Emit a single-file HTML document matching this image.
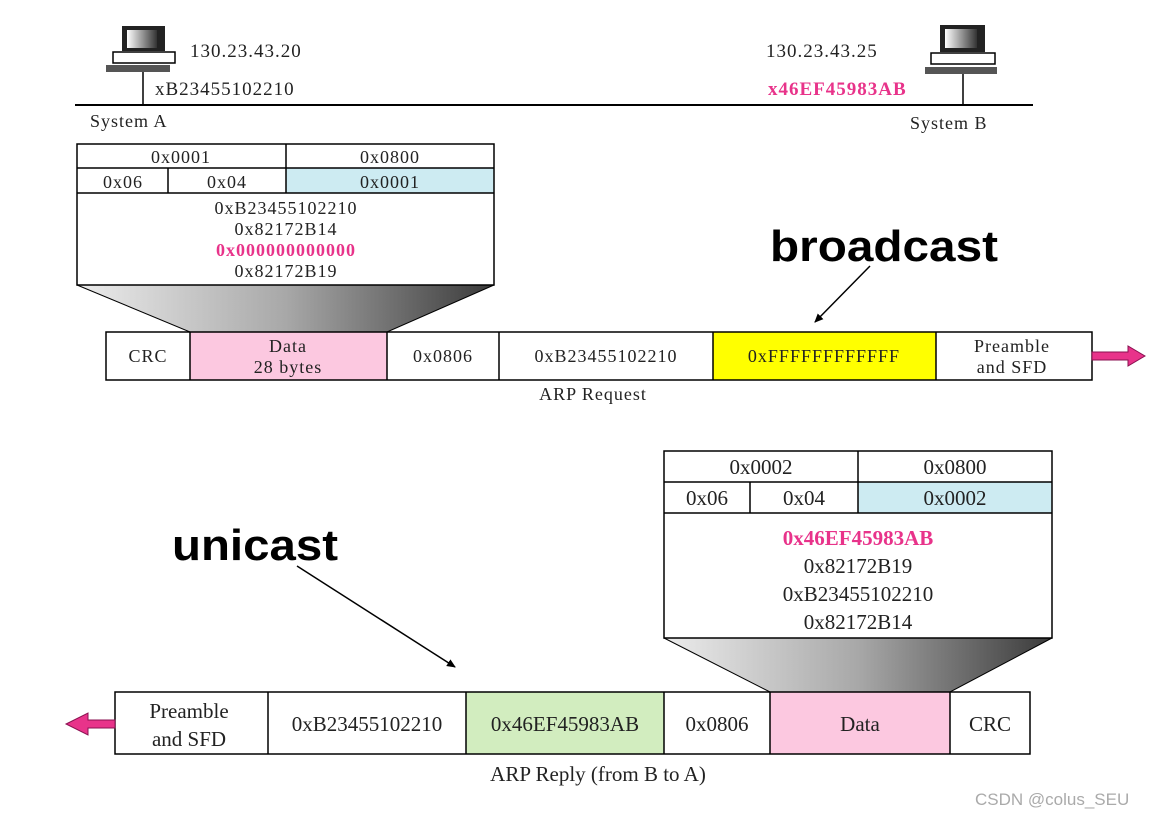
<!DOCTYPE html>
<html><head><meta charset="utf-8"><style>
html,body{margin:0;padding:0;background:#fff;}
</style></head><body>
<svg width="1166" height="818" viewBox="0 0 1166 818" xmlns="http://www.w3.org/2000/svg">
<defs>
<linearGradient id="g" x1="0" x2="1" y1="0" y2="0">
<stop offset="0" stop-color="#ececec"/><stop offset="0.5" stop-color="#a8a8a8"/><stop offset="1" stop-color="#3a3a3a"/>
</linearGradient>
<linearGradient id="mon" x1="0" x2="1"><stop offset="0" stop-color="#fff"/><stop offset="1" stop-color="#333"/></linearGradient>
<marker id="ah" markerWidth="10" markerHeight="10" refX="8" refY="5" orient="auto" markerUnits="userSpaceOnUse"><path d="M0,1 L9,5 L0,9 Z" fill="#000"/></marker>
</defs>

<line x1="75" y1="105" x2="1033" y2="105" stroke="#000" stroke-width="2"/>
<g>
<rect x="122" y="26" width="43" height="25" fill="#222"/><rect x="127" y="30" width="30" height="18" fill="url(#mon)"/>
<rect x="113" y="52" width="62" height="11" fill="#fff" stroke="#000" stroke-width="1.5"/>
<rect x="106" y="65" width="64" height="7" fill="#555"/>
<line x1="143" y1="72" x2="143" y2="105" stroke="#000" stroke-width="1.5"/>
</g>
<g>
<rect x="940" y="25" width="45" height="27" fill="#222"/><rect x="945" y="29" width="32" height="19" fill="url(#mon)"/>
<rect x="931" y="53" width="64" height="11" fill="#fff" stroke="#000" stroke-width="1.5"/>
<rect x="925" y="67" width="72" height="7" fill="#555"/>
<line x1="963" y1="74" x2="963" y2="105" stroke="#000" stroke-width="1.5"/>
</g>
<g font-family="Liberation Serif,serif" letter-spacing="1">
<text x="190" y="57" font-size="19" fill="#222">130.23.43.20</text>
<text x="155" y="95" font-size="19" fill="#222">xB23455102210</text>
<text x="90" y="127" font-size="18" fill="#222">System A</text>
<text x="766" y="57" font-size="19" fill="#222">130.23.43.25</text>
<text x="768" y="95" font-size="19" fill="#e8338a" font-weight="bold">x46EF45983AB</text>
<text x="910" y="129" font-size="18" fill="#222">System B</text>
</g>

<polygon points="77,285 494,285 387,332 190,332" fill="url(#g)" stroke="#000"/>
<rect x="286" y="168" width="208" height="25" fill="#cdebf2"/>
<rect x="77" y="144" width="417" height="141" fill="none" stroke="#000" stroke-width="1.5"/>
<line x1="77" y1="168" x2="494" y2="168" stroke="#000" stroke-width="1.5"/>
<line x1="77" y1="193" x2="494" y2="193" stroke="#000" stroke-width="1.5"/>
<line x1="286" y1="144" x2="286" y2="193" stroke="#000" stroke-width="1.5"/>
<line x1="168" y1="168" x2="168" y2="193" stroke="#000" stroke-width="1.5"/>
<g font-family="Liberation Serif,serif" font-size="18" fill="#222" text-anchor="middle" letter-spacing="1">
<text x="181" y="163">0x0001</text><text x="390" y="163">0x0800</text>
<text x="123" y="188">0x06</text><text x="227" y="188">0x04</text><text x="390" y="188">0x0001</text>
<text x="286" y="214">0xB23455102210</text>
<text x="286" y="235">0x82172B14</text>
<text x="286" y="256" fill="#e8338a" font-weight="bold">0x000000000000</text>
<text x="286" y="277">0x82172B19</text>
</g>

<rect x="190" y="332" width="197" height="48" fill="#fcc8e0"/>
<rect x="713" y="332" width="223" height="48" fill="#ffff00"/>
<rect x="106" y="332" width="986" height="48" fill="none" stroke="#000" stroke-width="1.5"/>
<g stroke="#000" stroke-width="1.5">
<line x1="190" y1="332" x2="190" y2="380"/><line x1="387" y1="332" x2="387" y2="380"/>
<line x1="499" y1="332" x2="499" y2="380"/><line x1="713" y1="332" x2="713" y2="380"/>
<line x1="936" y1="332" x2="936" y2="380"/></g>
<g font-family="Liberation Serif,serif" font-size="18" fill="#222" text-anchor="middle" letter-spacing="1">
<text x="148" y="362">CRC</text>
<text x="288" y="352">Data</text><text x="288" y="373">28 bytes</text>
<text x="443" y="362">0x0806</text>
<text x="606" y="362">0xB23455102210</text>
<text x="824" y="362">0xFFFFFFFFFFFF</text>
<text x="1012" y="352">Preamble</text><text x="1012" y="373">and SFD</text>
<text x="593" y="400">ARP Request</text>
</g>
<path d="M1092,352 L1128,352 L1128,346 L1145,356 L1128,366 L1128,360 L1092,360 Z" fill="#e8338a" stroke="#8a1050"/>
<text x="770" y="261" font-family="Liberation Sans,sans-serif" font-size="44" font-weight="bold" fill="#000" textLength="228" lengthAdjust="spacingAndGlyphs">broadcast</text>
<line x1="870" y1="266" x2="815" y2="322" stroke="#000" stroke-width="1.5" marker-end="url(#ah)"/>

<polygon points="664,638 1052,638 950,692 770,692" fill="url(#g)" stroke="#000"/>
<rect x="858" y="482" width="194" height="31" fill="#cdebf2"/>
<rect x="664" y="451" width="388" height="187" fill="none" stroke="#000" stroke-width="1.5"/>
<line x1="664" y1="482" x2="1052" y2="482" stroke="#000" stroke-width="1.5"/>
<line x1="664" y1="513" x2="1052" y2="513" stroke="#000" stroke-width="1.5"/>
<line x1="858" y1="451" x2="858" y2="513" stroke="#000" stroke-width="1.5"/>
<line x1="750" y1="482" x2="750" y2="513" stroke="#000" stroke-width="1.5"/>
<g font-family="Liberation Serif,serif" font-size="21" fill="#222" text-anchor="middle">
<text x="761" y="474">0x0002</text><text x="955" y="474">0x0800</text>
<text x="707" y="505">0x06</text><text x="804" y="505">0x04</text><text x="955" y="505">0x0002</text>
<text x="858" y="545" fill="#e8338a" font-weight="bold">0x46EF45983AB</text>
<text x="858" y="573">0x82172B19</text>
<text x="858" y="601">0xB23455102210</text>
<text x="858" y="629">0x82172B14</text>
</g>

<rect x="466" y="692" width="198" height="62" fill="#d2edbf"/>
<rect x="770" y="692" width="180" height="62" fill="#fcc8e0"/>
<rect x="115" y="692" width="915" height="62" fill="none" stroke="#000" stroke-width="1.5"/>
<g stroke="#000" stroke-width="1.5">
<line x1="268" y1="692" x2="268" y2="754"/><line x1="466" y1="692" x2="466" y2="754"/>
<line x1="664" y1="692" x2="664" y2="754"/><line x1="770" y1="692" x2="770" y2="754"/>
<line x1="950" y1="692" x2="950" y2="754"/></g>
<g font-family="Liberation Serif,serif" font-size="21" fill="#222" text-anchor="middle">
<text x="189" y="718">Preamble</text><text x="189" y="746">and SFD</text>
<text x="367" y="731">0xB23455102210</text>
<text x="565" y="731">0x46EF45983AB</text>
<text x="717" y="731">0x0806</text>
<text x="860" y="731">Data</text>
<text x="990" y="731">CRC</text>
<text x="598" y="781">ARP Reply  (from B to A)</text>
</g>
<path d="M115,720 L88,720 L88,713 L66,724 L88,735 L88,728 L115,728 Z" fill="#e8338a" stroke="#8a1050"/>
<text x="172" y="560" font-family="Liberation Sans,sans-serif" font-size="44" font-weight="bold" fill="#000" textLength="166" lengthAdjust="spacingAndGlyphs">unicast</text>
<line x1="297" y1="566" x2="455" y2="667" stroke="#000" stroke-width="1.5" marker-end="url(#ah)"/>

<text x="975" y="805" font-family="Liberation Sans,sans-serif" font-size="17" fill="#aaa">CSDN @colus_SEU</text>
</svg>
</body></html>
